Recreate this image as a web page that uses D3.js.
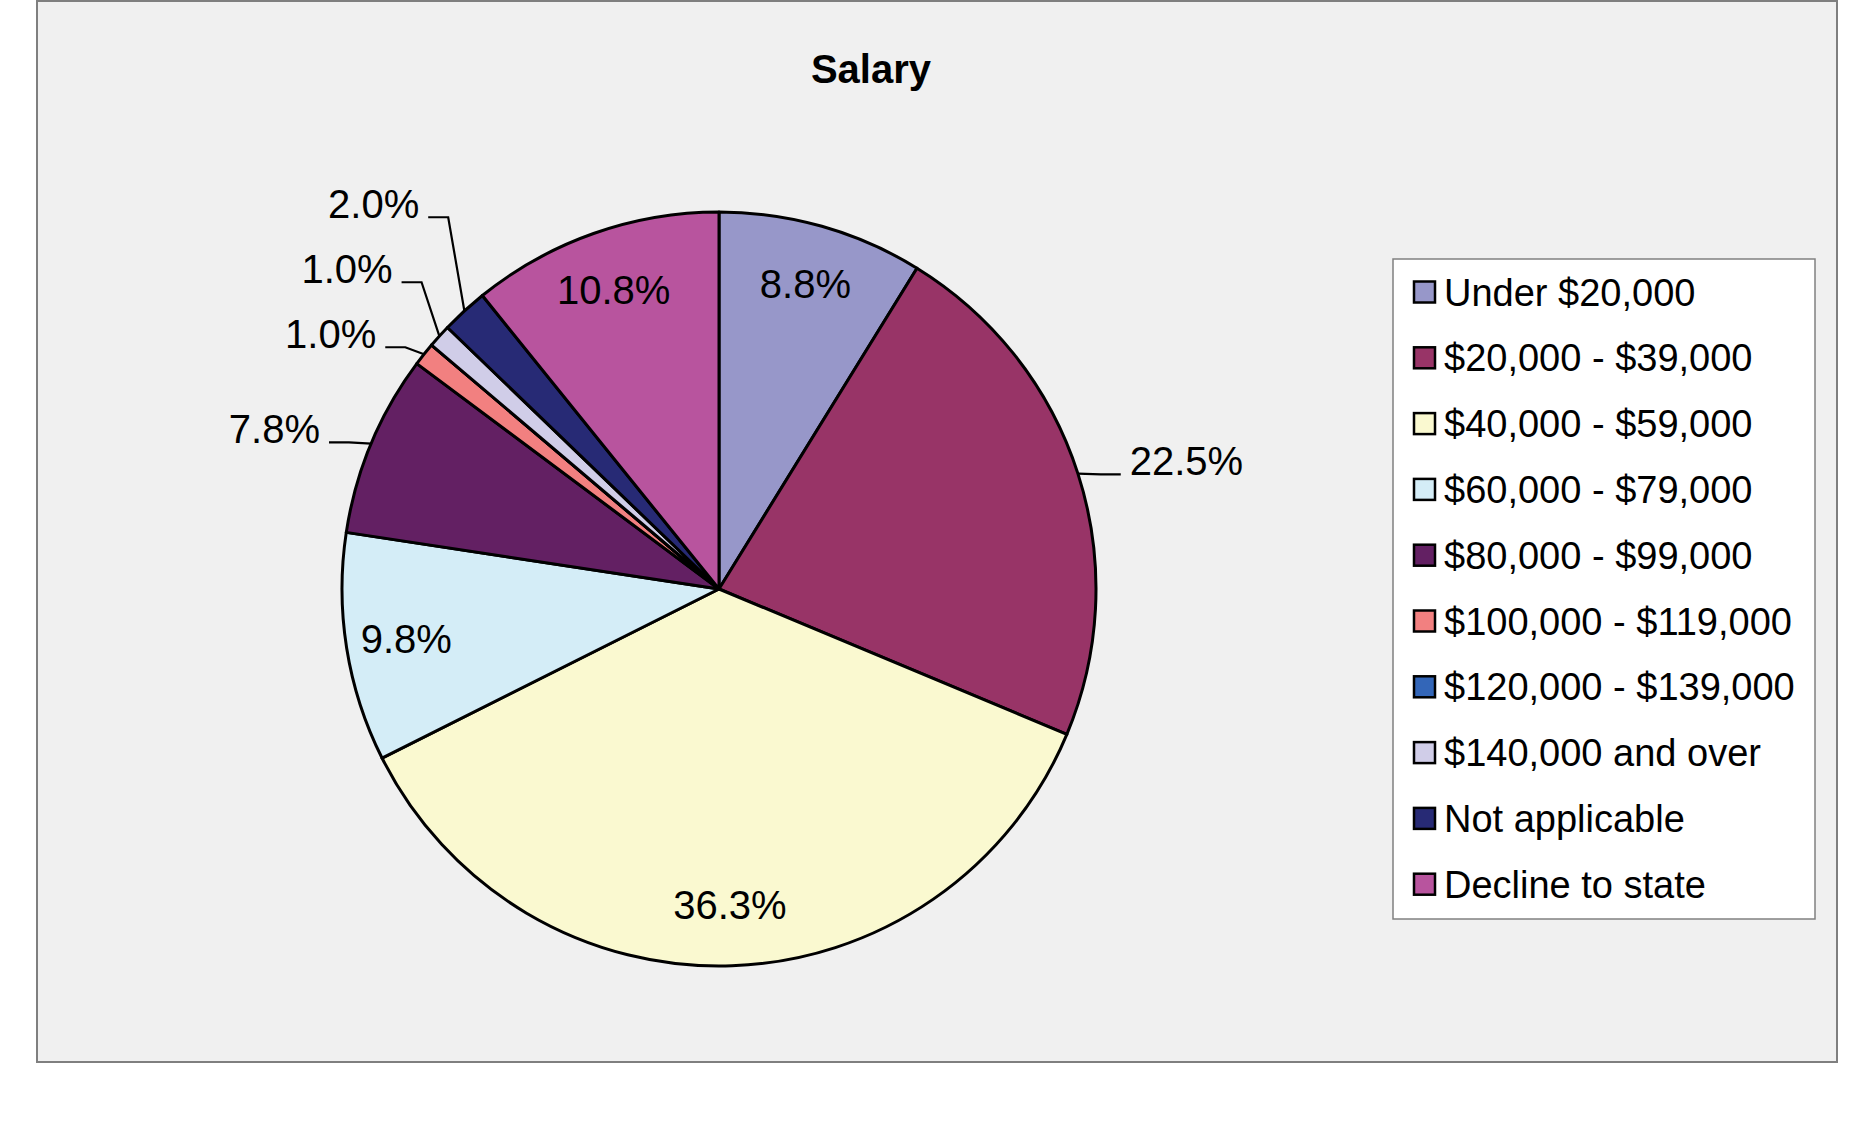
<!DOCTYPE html>
<html>
<head>
<meta charset="utf-8">
<script src="https://cdn.jsdelivr.net/npm/d3@7"></script>
<style>
  body { margin: 0; background: #fff; }
  svg { display: block; font-family: "Liberation Sans", Arial, Helvetica, sans-serif; }
</style>
</head>
<body>
<div id="chart"></div>
<script>
const categories = [
  'Under $20,000', '$20,000 - $39,000', '$40,000 - $59,000', '$60,000 - $79,000',
  '$80,000 - $99,000', '$100,000 - $119,000', '$120,000 - $139,000',
  '$140,000 and over', 'Not applicable', 'Decline to state'
];
const percents = [8.8, 22.5, 36.3, 9.8, 7.8, 1.0, 0.0, 1.0, 2.0, 10.8];
const colors = [
  '#9797c9', '#983467', '#faf9d0', '#d4edf7', '#632063',
  '#f28080', '#3366b8', '#d0cde8', '#272a75', '#b8549e'
];
// labels Excel pushed out of the slice
const outside = new Set(['$20,000 - $39,000', '$80,000 - $99,000', '$100,000 - $119,000',
  '$140,000 and over', 'Not applicable']);

const width = 1855
    , height = 1130
    , cx = 719
    , cy = 589
    , r = 377
    ;

const data = categories.map((c, i) => ({ name: c, value: percents[i], color: colors[i] }));

const svg = d3.select('#chart').append('svg')
  .attr('width', width)
  .attr('height', height);

// chart area
svg.append('rect')
  .attr('x', 37).attr('y', 1)
  .attr('width', 1837 - 37).attr('height', 1062 - 1)
  .attr('fill', '#f0f0f0')
  .attr('stroke', '#7f7f7f')
  .attr('stroke-width', 2);

svg.append('text')
  .attr('x', 871).attr('y', 83)
  .attr('text-anchor', 'middle')
  .style('font-size', '40px')
  .style('font-weight', 'bold')
  .attr('fill', '#000')
  .text('Salary');

const pie = d3.pie().sort(null).value(d => d.value);
const arcs = pie(data);

const arc = d3.arc().innerRadius(0).outerRadius(r);
const labelArc = d3.arc().innerRadius(r * 0.84).outerRadius(r * 0.84);

const g = svg.append('g').attr('transform', `translate(${cx},${cy})`);

g.selectAll('path.slice')
  .data(arcs)
  .join('path')
    .attr('class', 'slice')
    .attr('d', arc)
    .attr('fill', d => d.data.color)
    .attr('stroke', '#000')
    .attr('stroke-width', 3)
    .attr('stroke-linejoin', 'round');

const fmt = d => d.toFixed(1) + '%';

// inside labels
g.selectAll('text.inlabel')
  .data(arcs.filter(d => d.data.value > 0 && !outside.has(d.data.name)))
  .join('text')
    .attr('class', 'inlabel')
    .attr('x', d => labelArc.centroid(d)[0])
    .attr('y', d => labelArc.centroid(d)[1] + 14)
    .attr('text-anchor', 'middle')
    .style('font-size', '40px')
    .attr('fill', '#000')
    .text(d => fmt(d.data.value));

// outside labels with leader lines
const ext = r + 24;
const outs = arcs.filter(d => d.data.value > 0 && outside.has(d.data.name)).map(d => {
  const a = (d.startAngle + d.endAngle) / 2;
  return {
    d,
    side: Math.sin(a) < 0 ? -1 : 1,
    ex: r * Math.sin(a), ey: -r * Math.cos(a),
    bx: ext * Math.sin(a), by: -ext * Math.cos(a) + 8
  };
});

// stack labels on each side so they don't collide
const gap = 65;
[-1, 1].forEach(side => {
  const list = outs.filter(o => o.side === side).sort((a, b) => b.by - a.by);
  for (let i = 1; i < list.length; i++) {
    list[i].by = Math.min(list[i].by, list[i - 1].by - gap);
  }
});

outs.forEach(o => {
  const hx = o.bx + o.side * 20;
  g.append('path')
    .attr('d', `M${o.ex},${o.ey}L${o.bx},${o.by}L${hx},${o.by}`)
    .attr('fill', 'none')
    .attr('stroke', '#000')
    .attr('stroke-width', 2.2);
  g.append('text')
    .attr('x', hx + o.side * 9)
    .attr('y', o.by + 1)
    .attr('text-anchor', o.side < 0 ? 'end' : 'start')
    .style('font-size', '40px')
    .attr('fill', '#000')
    .text(fmt(o.d.data.value));
});

// legend
const lx = 1393, ly = 259, lw = 1815 - 1393, lh = 919 - 259;
const legend = svg.append('g');
legend.append('rect')
  .attr('x', lx).attr('y', ly)
  .attr('width', lw).attr('height', lh)
  .attr('fill', '#fff')
  .attr('stroke', '#808080')
  .attr('stroke-width', 1.5);

const rowY = d3.scalePoint().domain(categories).range([305.5, 305.5 + 65.8 * 9]);

const item = legend.selectAll('g.item')
  .data(data)
  .join('g')
    .attr('class', 'item')
    .attr('transform', d => `translate(0,${rowY(d.name)})`);

item.append('rect')
  .attr('x', 1414).attr('y', -24)
  .attr('width', 21).attr('height', 21)
  .attr('fill', d => d.color)
  .attr('stroke', '#000')
  .attr('stroke-width', 2.5);

item.append('text')
  .attr('x', 1444).attr('y', 0)
  .style('font-size', '38px')
  .attr('fill', '#000')
  .text(d => d.name);
</script>
</body>
</html>
